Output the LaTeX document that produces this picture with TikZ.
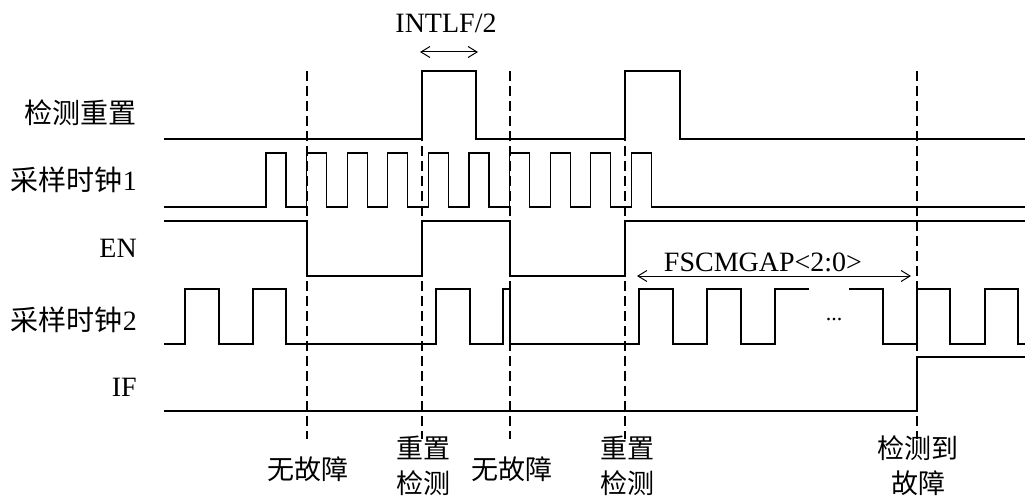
\documentclass[tikz,border=0pt]{standalone}
\usepackage{fontspec}
\setmainfont{Liberation Serif}
\newfontfamily\cjk{Noto Sans CJK SC}
\usepackage{tikz}
\usetikzlibrary{arrows.meta}

\begin{document}
\begin{tikzpicture}[x=1pt,y=-1pt,>={Straight Barb[length=9pt,width=11pt,line width=1pt]},
  wave/.style={line width=1.2pt},
  cut line/.style={line width=1.1pt,dash pattern=on 10pt off 5pt},
  span arrow/.style={<->,line width=1pt},
  sig label/.style={anchor=east,inner sep=0pt,font=\fontsize{28}{30}\selectfont},
  event label/.style={align=center,inner sep=0pt,font=\fontsize{27}{35}\selectfont\cjk},
  span label/.style={inner sep=0pt,font=\fontsize{28}{30}\selectfont}]

  \useasboundingbox (0,0) rectangle (1027,497);

  % signal names
  \node[sig label] (lreset) at (137,113) {\cjk 检测重置};
  \node[sig label] (lclk1) at (137,180) {{\cjk 采样时钟}1};
  \node[sig label] (len) at (137,248) {EN};
  \node[sig label] (lclk2) at (137,320) {{\cjk 采样时钟}2};
  \node[sig label] (lif) at (137,387) {IF};

  % marker lines
  \foreach \t in {307,422,510,625,917}
    \draw[cut line] (\t,71) -- (\t,439);

  % reset
  \draw[wave] (164,139) -- (422,139) -- (422,71) -- (476,71) -- (476,139)
    -- (625,139) -- (625,71) -- (680,71) -- (680,139) -- (1025,139);

  % sample clock 1
  \draw[wave] (164,207) \foreach \k in {0,...,9} {
      -- (266+40.6*\k,207) -- ++(0,-54) -- ++(20,0) -- ++(0,54)} -- (1025,207);

  % EN
  \draw[wave] (164,221) -- (307,221) -- (307,276) -- (422,276) -- (422,221)
    -- (510,221) -- (510,276) -- (625,276) -- (625,221) -- (1025,221);

  % sample clock 2
  \draw[wave] (164,344) -- (185,344) -- (185,289) -- (219,289) -- (219,344)
    -- (253,344) -- (253,289) -- (286,289) -- (286,344) -- (436,344)
    -- (436,289) -- (470,289) -- (470,344) -- (503,344) -- (503,289)
    -- (510,289) -- (510,344) -- (639,344) -- (639,289) -- (673,289)
    -- (673,344) -- (707,344) -- (707,289) -- (741,289) -- (741,344)
    -- (775,344) -- (775,289) -- (809,289);
  \draw[wave] (849,289) -- (883,289) -- (883,344) -- (917,344) -- (917,289)
    -- (950,289) -- (950,344) -- (985,344) -- (985,289) -- (1018,289)
    -- (1018,344) -- (1025,344);
  \node[span label,font=\fontsize{22}{26}\selectfont] (dots) at (834,320) {...};

  % IF
  \draw[wave] (164,411) -- (917,411) -- (917,357) -- (1025,357);

  % spans
  \coordinate (intlf a) at (420,52);
  \coordinate (intlf b) at (478,52);
  \draw[span arrow] (intlf a) -- (intlf b);
  \node[span label] (intlf) at (446,23) {INTLF/2};

  \coordinate (gap a) at (637,276);
  \coordinate (gap b) at (911,276);
  \draw[span arrow] (gap a) -- (gap b);
  \node[span label] (gap) at (763,262) {FSCMGAP<2:0>};

  % events
  \node[event label] (ev1) at (308,469) {无故障};
  \node[event label] (ev2) at (423,466) {重置\\检测};
  \node[event label] (ev3) at (512,469) {无故障};
  \node[event label] (ev4) at (627,466) {重置\\检测};
  \node[event label] (ev5) at (918,466) {检测到\\故障};
\end{tikzpicture}
\end{document}
